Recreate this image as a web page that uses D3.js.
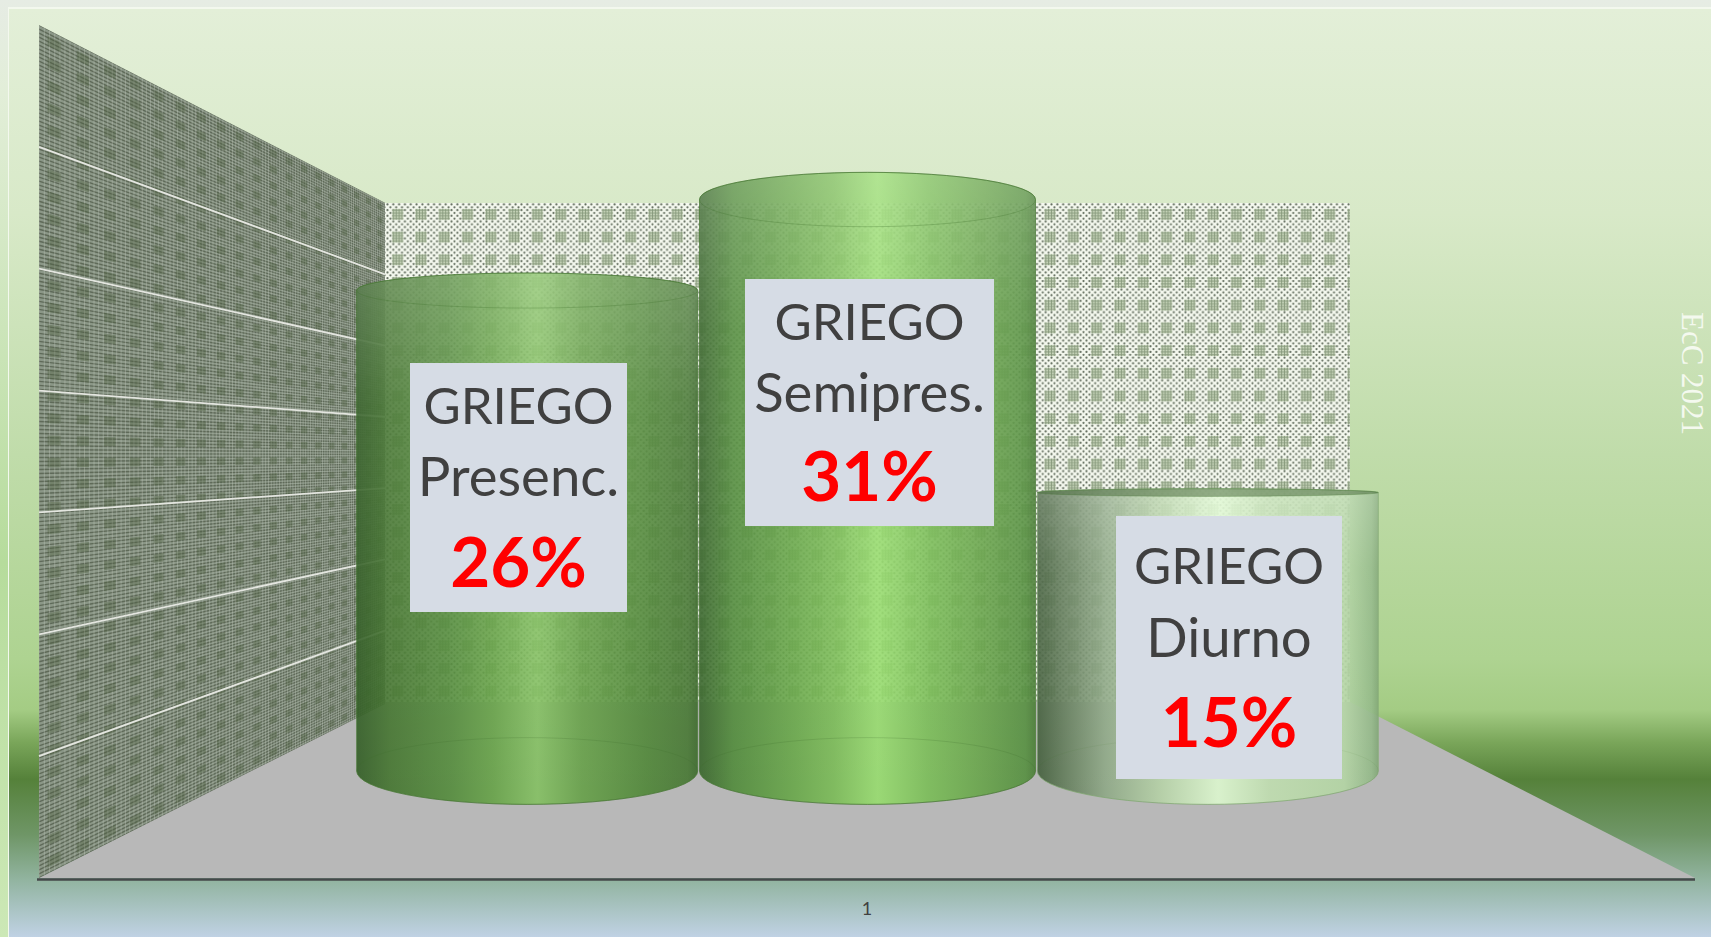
<!DOCTYPE html>
<html>
<head>
<meta charset="utf-8">
<script src="https://cdn.jsdelivr.net/npm/d3@7"></script>
<style>
  html, body { margin: 0; padding: 0; background: #fff; overflow: hidden; }
  svg { display: block; }
  text { font-family: Lato, "Open Sans", sans-serif; }
</style>
</head>
<body>
<div id="chart"></div>
<script>
// values
const categories = ['Presenc.', 'Semipres.', 'Diurno'];
const values = [26.4, 31.4, 15.3];
const groupName = 'GRIEGO';
const yTicks = [0, 5, 10, 15, 20, 25, 30, 35];
const xTickLabel = ['1'];
const watermark = 'EcC 2021';

const width = 1711, height = 937;
const horizonY = 456, vanishX = 878;

// same value domain, three depths of the 3d box
const yFront = d3.scaleLinear().domain([0, 35]).range([878, 25]);
const yBack = d3.scaleLinear().domain([0, 35]).range([702, 203]);
const yBar = d3.scaleLinear().domain([0, 35]).range([771, 134]);
const xBar = d3.scaleBand().domain(categories).range([357, 1378]);
const xAxis = d3.scalePoint().domain(xTickLabel).range([867, 867]);
// middle cylinder comes out a little narrower in the original
const cylWidth = [341, 336, 341];

const wallLeft = 39, wallRight = 385, backRight = 1350, axisRight = 1695;

const svg = d3.select('#chart').append('svg').attr('width', width).attr('height', height);
const defs = svg.append('defs');

function linear(id, stops, vertical) {
  const g = defs.append('linearGradient').attr('id', id)
    .attr('x1', 0).attr('y1', 0)
    .attr('x2', vertical ? 0 : 1).attr('y2', vertical ? 1 : 0);
  stops.forEach(s => {
    g.append('stop').attr('offset', s[0]).attr('stop-color', s[1])
      .attr('stop-opacity', s.length > 2 ? s[2] : 1);
  });
}

// background
linear('bg', [
  [0, '#e3efd8'], [0.22, '#d8e9c8'], [0.48, '#c0dcaa'], [0.7, '#aed391'],
  [0.755, '#a4cc84'], [0.79, '#7aa65a'], [0.83, '#55813a'], [0.89, '#6f9667'],
  [0.94, '#93b5a2'], [1, '#c0d2e4']
], true);
linear('frame', [[0, '#e6ece4'], [0.1, '#e2eed8'], [0.6, '#b6dc9c'], [1, '#cce8b6']], true);
svg.append('rect').attr('width', width).attr('height', height).attr('fill', 'url(#frame)');
svg.append('rect').attr('x', 8).attr('y', 7).attr('width', width - 8).attr('height', height - 7)
  .attr('fill', '#f3f8ee');
svg.append('rect').attr('x', 9).attr('y', 9).attr('width', width - 9).attr('height', height - 9)
  .attr('fill', 'url(#bg)');

defs.append('filter').attr('id', 'soft').append('feGaussianBlur').attr('stdDeviation', 0.5);

// back wall tile
const tileW = 23.3, tileH = 22.7, dots = 8;
const tile = defs.append('pattern').attr('id', 'weave').attr('patternUnits', 'userSpaceOnUse')
  .attr('x', wallRight + 1).attr('y', 203).attr('width', tileW).attr('height', tileH);
tile.append('rect').attr('width', tileW).attr('height', tileH).attr('fill', '#f4f8ee');
d3.range(dots).forEach(i => d3.range(dots).forEach(j => {
  if ((i + j) % 2 === 0) {
    tile.append('circle')
      .attr('cx', (i + 0.5) * tileW / dots).attr('cy', (j + 0.5) * tileH / dots)
      .attr('r', 1.1).attr('fill', '#626d5e');
  }
}));
tile.append('rect').attr('x', tileW / 2 - 5.5).attr('y', tileH / 2 - 5.5).attr('width', 11).attr('height', 11)
  .attr('fill', '#c8d5ba');
d3.range(4).forEach(k => {
  tile.append('path')
    .attr('d', `M${tileW / 2 - 5.5},${tileH / 2 - 4.2 + k * 2.8}h11M${tileW / 2 - 4.2 + k * 2.8},${tileH / 2 - 5.5}v11`)
    .attr('stroke', '#85977a').attr('stroke-width', 0.9).attr('fill', 'none');
});

// floor
svg.append('polygon')
  .attr('points', [[wallLeft, yFront(0)], [axisRight, yFront(0)], [backRight, yBack(0)], [wallRight, yBack(0)]].join(' '))
  .attr('fill', '#b8b8b8');

// back wall
svg.append('rect')
  .attr('x', wallRight).attr('y', yBack(35))
  .attr('width', backRight - wallRight).attr('height', yBack(0) - yBack(35))
  .attr('fill', 'url(#weave)').attr('filter', 'url(#soft)');

// side wall, a mesh running into the vanishing point
const depthK = (vanishX - wallLeft) / (vanishX - wallRight) - 1;
function sideWall(t, v) {
  const s = 1 / (1 + depthK * t);
  const yf = yFront(0) + (yFront(35) - yFront(0)) * v;
  return [vanishX - (vanishX - wallLeft) * s, horizonY + (yf - horizonY) * s];
}
defs.append('clipPath').attr('id', 'sideClip').append('polygon')
  .attr('points', [sideWall(0, 0), sideWall(0, 1), sideWall(1, 1), sideWall(1, 0)].join(' '));
const side = svg.append('g').attr('clip-path', 'url(#sideClip)');
const sideInner = side.append('g').attr('filter', 'url(#soft)');
sideInner.append('polygon')
  .attr('points', [sideWall(0, 0), sideWall(0, 1), sideWall(1, 1), sideWall(1, 0)].join(' '))
  .attr('fill', '#8b9787');

const rowCount = 213, colCount = 110, blobRows = 38, blobCols = 19;
const rowsPath = d3.range(rowCount + 1).map(r => {
  const a = sideWall(0, r / rowCount), b = sideWall(1, r / rowCount);
  return `M${a}L${b}`;
}).join('');
const colsPath = d3.range(colCount + 1).map(c => {
  const a = sideWall(c / colCount, 0), b = sideWall(c / colCount, 1);
  return `M${a}L${b}`;
}).join('');
sideInner.append('path').attr('d', rowsPath).attr('stroke', '#505b4a').attr('stroke-width', 1.4)
  .attr('stroke-opacity', 0.75).attr('fill', 'none');
sideInner.append('path').attr('d', colsPath).attr('stroke', '#c3cbbd').attr('stroke-width', 1)
  .attr('stroke-opacity', 0.4).attr('fill', 'none');
const blobs = [];
d3.range(blobCols).forEach(c => d3.range(blobRows).forEach(r => {
  const t0 = (c + 0.28) / blobCols, t1 = (c + 0.72) / blobCols;
  const v0 = (r + 0.28) / blobRows, v1 = (r + 0.72) / blobRows;
  blobs.push(`M${sideWall(t0, v0)}L${sideWall(t1, v0)}L${sideWall(t1, v1)}L${sideWall(t0, v1)}Z`);
}));
sideInner.append('path').attr('d', blobs.join('')).attr('fill', '#4c5e40').attr('fill-opacity', 0.38);

// grid lines only show on the side wall
svg.append('g').selectAll('line').data(yTicks.slice(1, -1)).join('line')
  .attr('x1', wallLeft).attr('y1', d => yFront(d))
  .attr('x2', wallRight).attr('y2', d => yBack(d))
  .attr('stroke', '#e4e6e0').attr('stroke-width', 1.8);

// cylinders
const bodyStops = [
  [[0, '#315c24'], [0.1, '#44752f'], [0.28, '#548c3c'], [0.4, '#66a247'], [0.53, '#84c062'],
   [0.66, '#66a048'], [0.85, '#4f8637'], [0.97, '#467732'], [1, '#3a6829']],
  [[0, '#37642a'], [0.1, '#508a3a'], [0.28, '#68a749'], [0.4, '#7abb56'], [0.53, '#97dc6e'],
   [0.68, '#7abd57'], [0.85, '#66a249'], [0.97, '#558f3f'], [1, '#487c34']],
  [[0, '#415d3a'], [0.08, '#627c5a'], [0.2, '#8ea886'], [0.36, '#b5d1a6'], [0.53, '#dcf7ce'],
   [0.68, '#bfddaf'], [0.9, '#b3d5a3'], [0.98, '#92b887'], [1, '#7fa574']]
];
bodyStops.forEach((s, i) => linear('body' + i, s));
linear('sheen', [[0, '#ffffff', 0.2], [0.25, '#ffffff', 0.06], [1, '#ffffff', 0]], true);

const ryAt = y => 0.106 * Math.abs(y - horizonY);
const bars = categories.map((c, i) => {
  const mid = xBar(c) + xBar.bandwidth() / 2;
  return { i, c, v: values[i], x0: mid - cylWidth[i] / 2, x1: mid + cylWidth[i] / 2, yT: yBar(values[i]), yB: yBar(0) };
});
const cylPath = d => {
  const rx = (d.x1 - d.x0) / 2;
  return `M${d.x0},${d.yT}A${rx},${ryAt(d.yT)} 0 0 1 ${d.x1},${d.yT}` +
    `L${d.x1},${d.yB}A${rx},${ryAt(d.yB)} 0 0 1 ${d.x0},${d.yB}Z`;
};
const cyl = svg.append('g').selectAll('g').data(bars).join('g');
cyl.append('path').attr('d', cylPath)
  .attr('fill', d => `url(#body${d.i})`).attr('fill-opacity', 0.9);
cyl.append('path').attr('d', cylPath).attr('fill', 'url(#sheen)');
cyl.append('path').attr('d', cylPath).attr('fill', 'none')
  .attr('stroke', d => d.i === 2 ? '#86ad78' : '#4a7a36').attr('stroke-width', 1).attr('stroke-opacity', 0.7);
// upper rim, the pale cylinder shows it darker
cyl.append('ellipse')
  .attr('cx', d => (d.x0 + d.x1) / 2).attr('cy', d => d.yT)
  .attr('rx', d => (d.x1 - d.x0) / 2).attr('ry', d => ryAt(d.yT))
  .attr('fill', d => d.i === 2 ? '#4f6f42' : 'none').attr('fill-opacity', 0.55)
  .attr('stroke', '#3f6f2c').attr('stroke-opacity', 0.3);
cyl.append('ellipse')
  .attr('cx', d => (d.x0 + d.x1) / 2).attr('cy', d => d.yB)
  .attr('rx', d => (d.x1 - d.x0) / 2).attr('ry', d => ryAt(d.yB))
  .attr('fill', 'none').attr('stroke', '#3f6f2c').attr('stroke-opacity', d => d.i === 2 ? 0.08 : 0.22);

// x axis
svg.append('line')
  .attr('x1', wallLeft - 2).attr('x2', axisRight).attr('y1', yFront(0) + 1.5).attr('y2', yFront(0) + 1.5)
  .attr('stroke', '#44494a').attr('stroke-width', 2.6);
svg.append('g').selectAll('text').data(xTickLabel).join('text')
  .attr('x', d => xAxis(d)).attr('y', 915)
  .attr('text-anchor', 'middle').attr('font-size', 18).attr('fill', '#404040')
  .text(d => d);

// text boxes, placed by hand in the original
const boxW = [217, 249, 226], boxH = [249, 247, 263];
const boxX = [410, 745, 1116], boxY = [363, 279, 516];
const lineDy = [[61, 133, 224], [61, 133, 222], [68, 141, 231]];
const boxes = svg.append('g').selectAll('g').data(bars).join('g')
  .attr('transform', d => `translate(${boxX[d.i]},${boxY[d.i]})`);
boxes.append('rect')
  .attr('width', d => boxW[d.i]).attr('height', d => boxH[d.i]).attr('fill', '#d6dce5');
boxes.append('text').attr('x', d => boxW[d.i] / 2).attr('y', d => lineDy[d.i][0])
  .attr('text-anchor', 'middle').attr('font-size', 51).attr('fill', '#404040')
  .text(groupName);
boxes.append('text').attr('x', d => boxW[d.i] / 2).attr('y', d => lineDy[d.i][1])
  .attr('text-anchor', 'middle').attr('font-size', 54.5).attr('fill', '#404040')
  .text(d => d.c);
boxes.append('text').attr('x', d => boxW[d.i] / 2).attr('y', d => lineDy[d.i][2])
  .attr('text-anchor', 'middle').attr('font-size', 69).attr('font-weight', 700).attr('fill', '#ff0000')
  .text(d => Math.round(d.v) + '%');

// watermark
svg.append('text')
  .attr('transform', 'translate(1682,312) rotate(90)')
  .attr('font-size', 31).attr('fill', '#f4f9ef')
  .style('font-family', '"Liberation Serif", serif')
  .text(watermark);
</script>
</body>
</html>
